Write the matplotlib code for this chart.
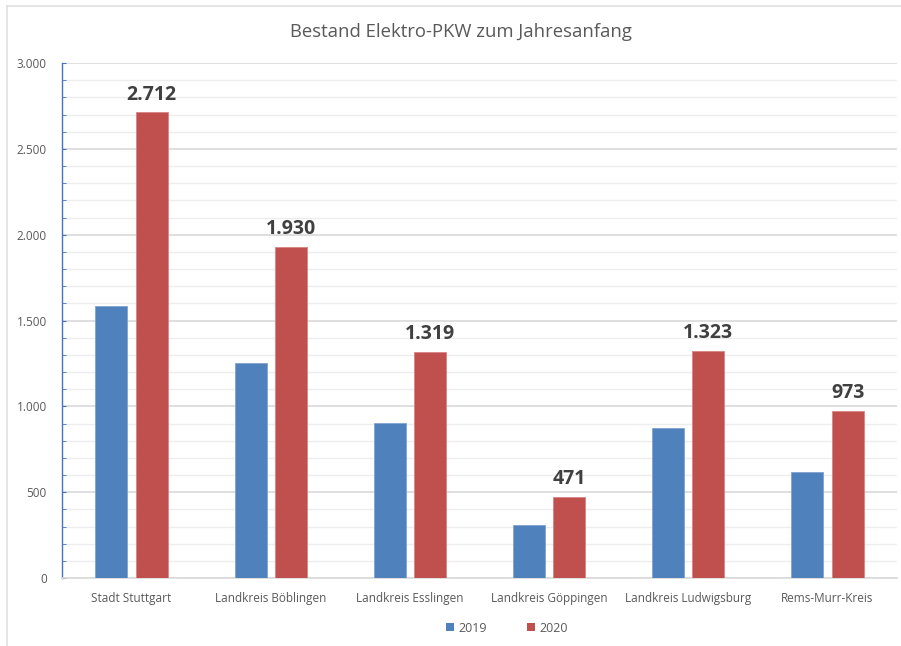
import matplotlib
matplotlib.use("Agg")
import matplotlib.pyplot as plt
import numpy as np
from matplotlib.ticker import MultipleLocator, FuncFormatter
from matplotlib.lines import Line2D
from matplotlib.patches import Patch

categories = ["Stadt Stuttgart", "Landkreis Böblingen", "Landkreis Esslingen",
              "Landkreis Göppingen", "Landkreis Ludwigsburg", "Rems-Murr-Kreis"]
values_2019 = [1585, 1252, 905, 309, 874, 620]
values_2020 = [2712, 1930, 1319, 471, 1323, 973]
series_names = ["2019", "2020"]

plt.rcParams['font.family'] = ['Open Sans', 'DejaVu Sans']

fig = plt.figure(figsize=(9.01, 6.46), dpi=100)
ax = fig.add_axes([62/901, 1-578/646, 835/901, 515/646])

blue = "#4F81BD"
red = "#C0504D"
x = np.arange(len(categories))
w = 0.23
off = 0.145
ax.bar(x - off, values_2019, w, color=blue, edgecolor="#7FA3D1", linewidth=0.6, zorder=3)
ax.bar(x + off, values_2020, w, color=red, edgecolor="#D88482", linewidth=0.6, zorder=3)

for xi, v in zip(x, values_2020):
    ax.text(xi + off, v + 45, f"{v:,}".replace(",", "."), ha="center", va="bottom",
            fontsize=14, fontweight="bold", color="#404040")

ax.set_xlim(-0.5, len(categories) - 0.5)
ax.set_ylim(0, 3000)
ax.yaxis.set_major_locator(MultipleLocator(500))
ax.yaxis.set_minor_locator(MultipleLocator(100))
ax.yaxis.set_major_formatter(FuncFormatter(lambda v, p: f"{int(v):,}".replace(",", ".")))
ax.grid(axis="y", which="major", color="#D9D9D9", linewidth=1.2, zorder=0)
ax.grid(axis="y", which="minor", color="#EDEDED", linewidth=1.0, zorder=0)
ax.set_xticks(x)
ax.set_xticklabels(categories)
ax.tick_params(axis="x", length=0, pad=10, labelsize=8.5, labelcolor="#595959")
ax.tick_params(axis="y", which="major", direction="in", length=3, color="#4472C4",
               labelsize=8.5, labelcolor="#595959", pad=11)
ax.tick_params(axis="y", which="minor", direction="in", length=3, color="#4472C4")
for s in ["top", "right"]:
    ax.spines[s].set_visible(False)
ax.spines["left"].set_color("#4472C4")
ax.spines["left"].set_linewidth(1.0)
ax.spines["bottom"].set_color("#D9D9D9")
ax.spines["bottom"].set_linewidth(1.2)

fig.text(461/901, 1-32/646, "Bestand Elektro-PKW zum Jahresanfang", ha="center", va="center",
         fontsize=13.3, color="#595959")

handles = [Patch(facecolor=blue), Patch(facecolor=red)]
fig.legend(handles, series_names, loc="center", bbox_to_anchor=(507/901, 1-628/646),
           ncol=2, frameon=False, fontsize=9, labelcolor="#595959",
           handlelength=0.6, handleheight=0.6, columnspacing=3.2, handletextpad=0.4)

# chart border
fig.add_artist(Line2D([7/901, 7/901], [0, 1-6/646], color="#E0E0E0", linewidth=1.2))
fig.add_artist(Line2D([7/901, 1], [1-6/646, 1-6/646], color="#E0E0E0", linewidth=1.2))

fig.savefig("out.png", dpi=100)
